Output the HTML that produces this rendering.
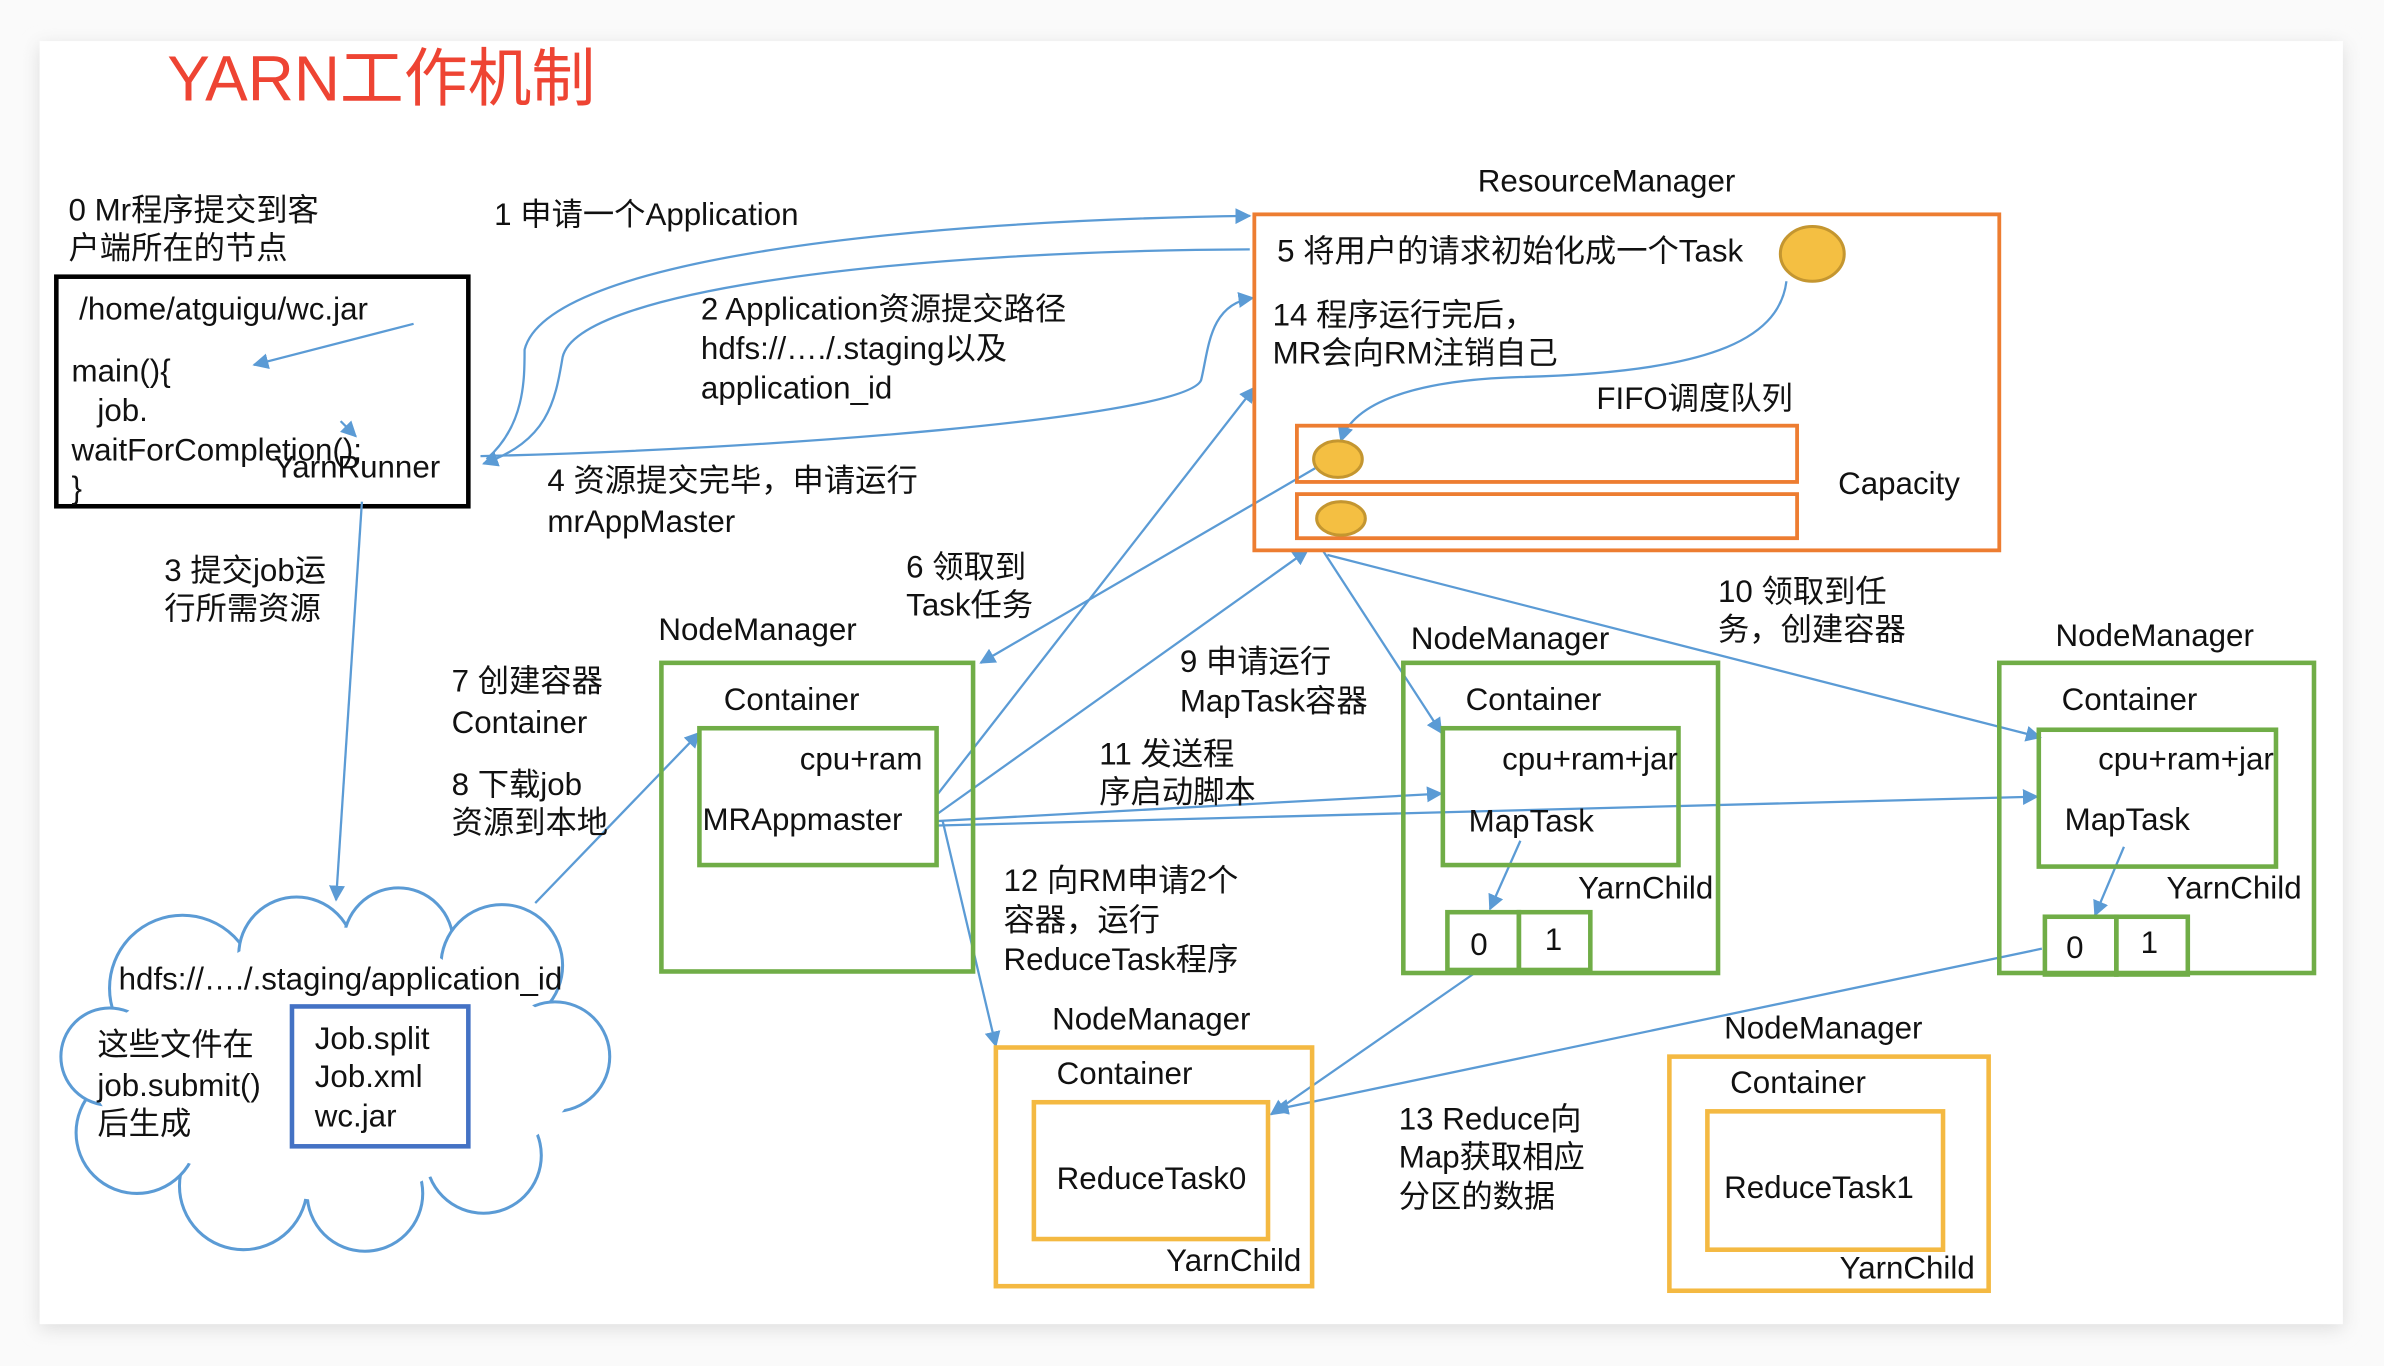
<!DOCTYPE html>
<html><head><meta charset="utf-8"><style>
html,body{margin:0;padding:0;background:#f4f4f4;}
svg{display:block;}
text{font-family:"Liberation Sans","Noto Sans CJK SC",sans-serif;font-size:20.6px;fill:#111;}
</style></head><body>
<svg width="2384" height="1366" viewBox="0 0 1568 898.5" xmlns="http://www.w3.org/2000/svg">
<defs>
<marker id="a" viewBox="0 0 10 10" refX="9" refY="5" markerWidth="7" markerHeight="7" orient="auto"><path d="M0,0 L10,5 L0,10 z" fill="#5b9bd5"/></marker>
<filter id="sh" x="-5%" y="-5%" width="110%" height="110%"><feGaussianBlur stdDeviation="6"/></filter>
</defs>
<rect x="0" y="0" width="1568" height="898.5" fill="#fafafa"/>
<rect x="26" y="30" width="1515" height="844" fill="#ddd" filter="url(#sh)"/>
<rect x="26" y="27" width="1515" height="844" fill="#fff"/>

<text x="110" y="66" style="font-size:42px;fill:#ee4433">YARN工作机制</text>

<text x="45" y="145">0 Mr程序提交到客</text>
<text x="45" y="170">户端所在的节点</text>
<rect x="37" y="182" width="271" height="151" fill="none" stroke="#000" stroke-width="3"/>
<text x="52" y="210">/home/atguigu/wc.jar</text>
<text x="47" y="251">main(){</text>
<text x="64" y="277">job.</text>
<text x="47" y="303">waitForCompletion();</text>
<text x="47" y="328">}</text>
<text x="180" y="314">YarnRunner</text>

<g fill="none" stroke="#5b9bd5" stroke-width="1.5" marker-end="url(#a)">
<line x1="272" y1="213" x2="167" y2="240"/>
<line x1="224" y1="277" x2="234" y2="287"/>
<line x1="238" y1="330" x2="221" y2="592"/>
<path d="M320,302 C345,280 345,250 345,230 C360,170 600,145 822,142"/>
<path d="M822,164 C600,165 380,190 370,235 C365,265 360,290 318,305"/>
<path d="M316,300 C500,296 780,275 790,250 C795,230 795,200 824,196"/>
<path d="M1175,185 C1170,225 1120,245 1000,248 C930,250 890,265 882,290"/>
<line x1="352" y1="594" x2="460" y2="482"/>
<line x1="865" y1="308" x2="645" y2="436"/>
<line x1="617" y1="522" x2="825" y2="255"/>
<line x1="617" y1="535" x2="860" y2="362"/>
<line x1="617" y1="540" x2="948" y2="522"/>
<line x1="617" y1="543" x2="1340" y2="524"/>
<line x1="620" y1="540" x2="655" y2="688"/>
<line x1="870" y1="362" x2="948" y2="482"/>
<line x1="873" y1="365" x2="1342" y2="485"/>
<line x1="1000" y1="553" x2="980" y2="598"/>
<line x1="1397" y1="557" x2="1378" y2="602"/>
<line x1="970" y1="640" x2="836" y2="733"/>
<line x1="1343" y1="624" x2="838" y2="730"/>
</g>

<text x="325" y="148">1 申请一个Application</text>
<text x="461" y="210">2 Application资源提交路径</text>
<text x="461" y="236">hdfs://…./.staging以及</text>
<text x="461" y="262">application_id</text>
<text x="360" y="323">4 资源提交完毕，申请运行</text>
<text x="360" y="350">mrAppMaster</text>
<text x="108" y="382">3 提交job运</text>
<text x="108" y="407">行所需资源</text>

<text x="972" y="126">ResourceManager</text>
<rect x="825" y="141" width="490" height="221" fill="none" stroke="#ed7d31" stroke-width="2.5"/>
<text x="840" y="172">5 将用户的请求初始化成一个Task</text>
<ellipse cx="1192" cy="167" rx="21" ry="18" fill="#f4bf42" stroke="#c49630" stroke-width="2"/>
<text x="837" y="214">14 程序运行完后，</text>
<text x="837" y="239">MR会向RM注销自己</text>
<text x="1050" y="269">FIFO调度队列</text>
<rect x="853" y="280" width="329" height="37" fill="none" stroke="#ed7d31" stroke-width="2.5"/>
<ellipse cx="880" cy="302" rx="16" ry="12" fill="#f4bf42" stroke="#c49630" stroke-width="2"/>
<rect x="853" y="325" width="329" height="29" fill="none" stroke="#ed7d31" stroke-width="2.5"/>
<ellipse cx="882" cy="341" rx="16" ry="11" fill="#f4bf42" stroke="#c49630" stroke-width="2"/>
<text x="1209" y="325">Capacity</text>

<text x="596" y="380">6 领取到</text>
<text x="596" y="405">Task任务</text>
<text x="297" y="455">7 创建容器</text>
<text x="297" y="482">Container</text>
<text x="297" y="523">8 下载job</text>
<text x="297" y="548">资源到本地</text>

<text x="433" y="421">NodeManager</text>
<rect x="435" y="436" width="205" height="203" fill="none" stroke="#70ad47" stroke-width="3"/>
<text x="476" y="467">Container</text>
<rect x="460" y="479" width="156" height="90" fill="none" stroke="#70ad47" stroke-width="3"/>
<text x="526" y="506">cpu+ram</text>
<text x="462" y="546">MRAppmaster</text>

<text x="776" y="442">9 申请运行</text>
<text x="776" y="468">MapTask容器</text>
<text x="723" y="503">11 发送程</text>
<text x="723" y="528">序启动脚本</text>
<text x="660" y="586">12 向RM申请2个</text>
<text x="660" y="612">容器，运行</text>
<text x="660" y="638">ReduceTask程序</text>
<text x="1130" y="396">10 领取到任</text>
<text x="1130" y="421">务，创建容器</text>

<text x="928" y="427">NodeManager</text>
<rect x="923" y="436" width="207" height="204" fill="none" stroke="#70ad47" stroke-width="3"/>
<text x="964" y="467">Container</text>
<rect x="949" y="479" width="155" height="90" fill="none" stroke="#70ad47" stroke-width="3"/>
<text x="988" y="506">cpu+ram+jar</text>
<text x="966" y="547">MapTask</text>
<text x="1038" y="591">YarnChild</text>
<rect x="952" y="600" width="47" height="38" fill="none" stroke="#70ad47" stroke-width="3"/>
<rect x="999" y="600" width="47" height="38" fill="none" stroke="#70ad47" stroke-width="3"/>
<text x="967" y="628">0</text>
<text x="1016" y="625">1</text>

<text x="1352" y="425">NodeManager</text>
<rect x="1315" y="436" width="207" height="204" fill="none" stroke="#70ad47" stroke-width="3"/>
<text x="1356" y="467">Container</text>
<rect x="1341" y="480" width="156" height="90" fill="none" stroke="#70ad47" stroke-width="3"/>
<text x="1380" y="506">cpu+ram+jar</text>
<text x="1358" y="546">MapTask</text>
<text x="1425" y="591">YarnChild</text>
<rect x="1345" y="603" width="47" height="38" fill="none" stroke="#70ad47" stroke-width="3"/>
<rect x="1392" y="603" width="47" height="38" fill="none" stroke="#70ad47" stroke-width="3"/>
<text x="1359" y="630">0</text>
<text x="1408" y="627">1</text>

<text x="692" y="677">NodeManager</text>
<rect x="655" y="689" width="208" height="157" fill="none" stroke="#f4b942" stroke-width="3"/>
<text x="695" y="713">Container</text>
<rect x="680" y="725" width="154" height="90" fill="none" stroke="#f4b942" stroke-width="3"/>
<text x="695" y="782">ReduceTask0</text>
<text x="767" y="836">YarnChild</text>

<text x="920" y="743">13 Reduce向</text>
<text x="920" y="768">Map获取相应</text>
<text x="920" y="794">分区的数据</text>

<text x="1134" y="683">NodeManager</text>
<rect x="1098" y="695" width="210" height="154" fill="none" stroke="#f4b942" stroke-width="3"/>
<text x="1138" y="719">Container</text>
<rect x="1123" y="731" width="155" height="91" fill="none" stroke="#f4b942" stroke-width="3"/>
<text x="1134" y="788">ReduceTask1</text>
<text x="1210" y="841">YarnChild</text>

<!-- cloud -->
<g fill="#fff" stroke="#5b9bd5" stroke-width="2">
<circle cx="120" cy="650" r="48"/>
<circle cx="195" cy="628" r="38"/>
<circle cx="262" cy="620" r="36"/>
<circle cx="330" cy="635" r="40"/>
<circle cx="365" cy="695" r="36"/>
<circle cx="318" cy="760" r="38"/>
<circle cx="240" cy="785" r="38"/>
<circle cx="160" cy="780" r="42"/>
<circle cx="90" cy="745" r="40"/>
<circle cx="72" cy="695" r="32"/>
</g>
<ellipse cx="220" cy="705" rx="160" ry="75" fill="#fff"/>
<ellipse cx="220" cy="700" rx="110" ry="90" fill="#fff"/>
<text x="78" y="651">hdfs://…./.staging/application_id</text>
<text x="64" y="694">这些文件在</text>
<text x="64" y="721">job.submit()</text>
<text x="64" y="746">后生成</text>
<rect x="192" y="662" width="116" height="92" fill="#fff" stroke="#4472c4" stroke-width="3"/>
<text x="207" y="690">Job.split</text>
<text x="207" y="715">Job.xml</text>
<text x="207" y="741">wc.jar</text>
</svg>
</body></html>
